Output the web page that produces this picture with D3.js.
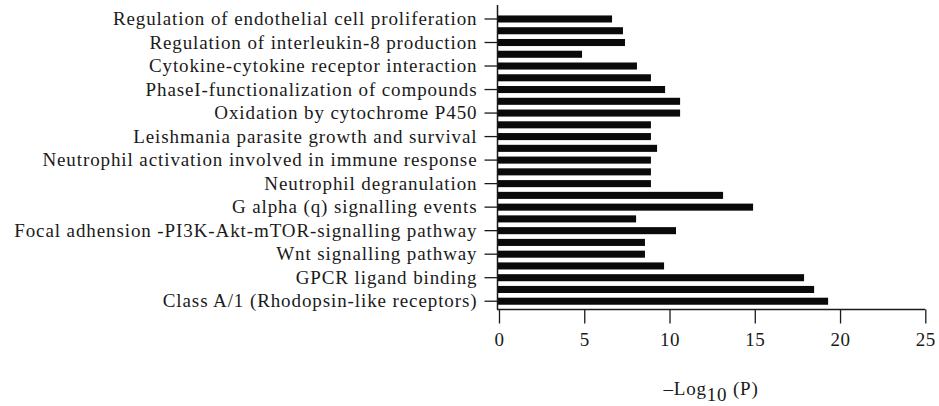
<!DOCTYPE html>
<html>
<head>
<meta charset="utf-8">
<script src="https://cdn.jsdelivr.net/npm/d3@7"></script>
<style>
  html, body { margin: 0; padding: 0; background: #fff; }
  svg { display: block; }
</style>
</head>
<body>
<svg id="chart" width="939" height="406"></svg>
<script>
// Tick labels (shown on every other bar, top to bottom)
const tickLabels = [
  "Regulation of endothelial cell proliferation",
  "Regulation of interleukin-8 production",
  "Cytokine-cytokine receptor interaction",
  "PhaseI-functionalization of compounds",
  "Oxidation by cytochrome P450",
  "Leishmania parasite growth and survival",
  "Neutrophil activation involved in immune response",
  "Neutrophil degranulation",
  "G alpha (q) signalling events",
  "Focal adhension -PI3K-Akt-mTOR-signalling pathway",
  "Wnt signalling pathway",
  "GPCR ligand binding",
  "Class A/1 (Rhodopsin-like receptors)"
];
// -Log10(P) values for all bars, top to bottom
const values = [
  6.63, 7.27, 7.39, 4.87, 8.09, 8.91, 9.74, 10.62, 10.62, 8.91, 8.91, 9.27, 8.91,
  8.91, 8.91, 13.14, 14.90, 8.04, 10.38, 8.56, 8.56, 9.68, 17.89, 18.48, 19.30
];
const xTicks = [0, 5, 10, 15, 20, 25];

const svg = d3.select("#chart");
const font = "'Liberation Serif', 'Times New Roman', serif";
const ink = "#1a1a1a";

const idx = values.map((d, i) => i);
const x = d3.scaleLinear().domain([0, 25]).range([499, 925.3]);
const y = d3.scaleBand().domain(idx).range([13.1, 307.1]).paddingInner(0.4).paddingOuter(0.2);

// Bars
svg.append("g").selectAll("rect").data(values).join("rect")
  .attr("x", 497.5)
  .attr("y", (d, i) => y(i))
  .attr("width", d => x(d) - 497.5)
  .attr("height", y.bandwidth())
  .attr("fill", "#0a0a0a");

// Y axis
const yAxis = d3.axisLeft(y)
  .tickValues(idx.filter(i => i % 2 === 0))
  .tickFormat(i => tickLabels[i / 2])
  .tickSize(13)
  .tickPadding(7);
const gy = svg.append("g").attr("transform", "translate(497.5,0)").call(yAxis);
gy.select(".domain").remove();
gy.selectAll(".tick line").attr("stroke", ink).attr("stroke-width", 1.3);
gy.selectAll(".tick text").attr("font-family", font).attr("font-size", 19)
  .attr("letter-spacing", "0.9px").attr("fill", ink);
svg.append("line").attr("x1", 497.5).attr("x2", 497.5).attr("y1", 5).attr("y2", 309.5)
  .attr("stroke", ink).attr("stroke-width", 1.5);

// X axis
const xAxis = d3.axisBottom(x).tickValues(xTicks).tickSize(14).tickPadding(9);
const gx = svg.append("g").attr("transform", "translate(0,309.5)").call(xAxis);
gx.select(".domain").attr("d", `M497,0H${x(25)}`).attr("stroke", ink).attr("stroke-width", 1.5);
gx.selectAll(".tick line").attr("stroke", ink).attr("stroke-width", 1.3);
gx.selectAll(".tick text").attr("font-family", font).attr("font-size", 19)
  .attr("letter-spacing", "0.5px").attr("fill", ink);

// Axis title
const title = svg.append("text")
  .attr("x", 711).attr("y", 395)
  .attr("text-anchor", "middle")
  .attr("font-family", font).attr("font-size", 19)
  .attr("letter-spacing", "0.8px").attr("fill", ink);
title.append("tspan").text("\u2013Log");
title.append("tspan").attr("dy", 6).text("10");
title.append("tspan").attr("dy", -6).text(" (P)");
</script>
</body>
</html>
